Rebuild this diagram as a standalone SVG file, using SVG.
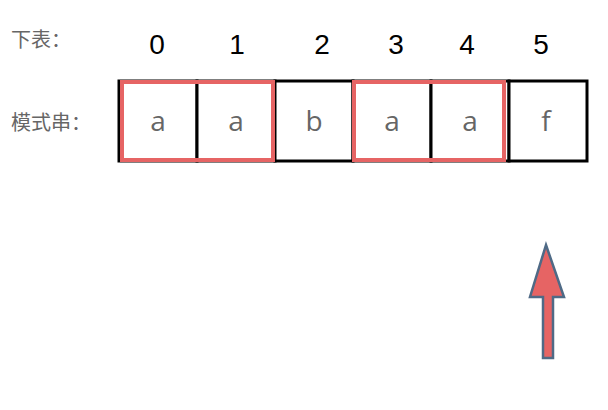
<svg xmlns="http://www.w3.org/2000/svg" width="608" height="410" viewBox="0 0 608 410">
<style>
.lbl{font-family:"Noto Sans CJK SC","Noto Sans",sans-serif;font-size:20px;fill:#666}
.idx{font-family:"Liberation Sans",Arial,sans-serif;font-size:28px;fill:#000;text-anchor:middle}
.ch{font-family:"Open Sans","Noto Sans",sans-serif;font-size:28px;fill:#666;text-anchor:middle}
.cell{fill:#fff;stroke:#000;stroke-width:3}
.hl{fill:none;stroke:#e66464;stroke-width:4}
</style>
<rect width="608" height="410" fill="#fff"/>
<g id="labels">
<text class="lbl" x="11" y="47">下表：</text>
<text class="lbl" x="11" y="130">模式串：</text>
</g>
<g id="indices">
<text class="idx" x="157" y="54">0</text>
<text class="idx" x="237" y="54">1</text>
<text class="idx" x="322" y="54">2</text>
<text class="idx" x="396" y="54">3</text>
<text class="idx" x="467" y="54">4</text>
<text class="idx" x="541" y="54">5</text>
</g>
<g id="cells">
<g id="c0"><rect class="cell" x="119" y="81" width="78" height="80"/><text class="ch" x="158" y="131">a</text></g>
<g id="c1"><rect class="cell" x="197" y="81" width="78" height="80"/><text class="ch" x="236" y="131">a</text></g>
<g id="c2"><rect class="cell" x="275" y="81" width="78" height="80"/><text class="ch" x="314" y="131">b</text></g>
<g id="c3"><rect class="cell" x="353" y="81" width="78" height="80"/><text class="ch" x="392" y="131">a</text></g>
<g id="c4"><rect class="cell" x="431" y="81" width="78" height="80"/><text class="ch" x="470" y="131">a</text></g>
<g id="c5"><rect class="cell" x="509" y="81" width="78" height="80"/><text class="ch" x="546" y="131">f</text></g>
</g>
<g id="highlights">
<rect class="hl" x="122" y="82" width="151" height="78"/>
<rect class="hl" x="354" y="82" width="150" height="78"/>
</g>
<g id="connectors">
<path d="M546 245 L564 297 L553 297 L553 358 L543 358 L543 297 L530 297 Z" fill="#e66464" stroke="#4f6a86" stroke-width="2.5" stroke-linejoin="miter"/>
</g>
</svg>
